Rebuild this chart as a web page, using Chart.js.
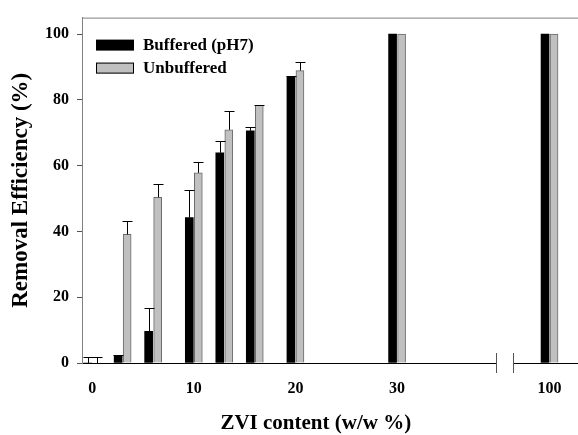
<!DOCTYPE html>
<html>
<head>
    <meta charset="UTF-8">
    <title>ZVI removal efficiency</title>
    <script src="https://cdn.jsdelivr.net/npm/chart.js"></script>
    <style>
        html, body {
            margin: 0;
            padding: 0;
            background: #fff;
        }

        #wrap {
            width: 578px;
            height: 435px;
        }
    </style>
</head>
<body>
<div id="wrap">
    <canvas id="myChart" width="578" height="435"></canvas>
</div>
<script>
    // ZVI content (w/w %) of each pair of bars
    const zviContent = [0, 3, 6, 10, 13, 16, 20, 30, 100];
    const bufferedValues = [0, 2.3, 9.6, 44.2, 63.9, 70.6, 87.0, 100, 100];
    const bufferedErrors = [1.8, 0.1, 7.1, 8.3, 3.6, 1.2, 0.2, 0, 0];
    const unbufferedValues = [0, 39.1, 50.4, 57.8, 70.9, 78.3, 88.9, 100, 100];
    const unbufferedErrors = [1.8, 4.2, 4.1, 3.3, 5.6, 0.2, 2.6, 0, 0];
    const xTickValues = [0, 10, 20, 30, 100];
    const yTickValues = [0, 20, 40, 60, 80, 100];

    // broken x axis: values above 40 are pulled left by 55
    const BREAK_AT = 40, BREAK_SHIFT = 55;
    const breakMarks = [39.7, 41.4];
    function axisPos(v) {
        return v > BREAK_AT ? v - BREAK_SHIFT : v;
    }

    const FONT = '"Liberation Serif", "Times New Roman", serif';

    const errorBars = {
        id: 'errorBars',
        afterDatasetsDraw(chart) {
            const ctx = chart.ctx, y = chart.scales.y;
            ctx.save();
            ctx.strokeStyle = '#000';
            ctx.lineWidth = 1;
            chart.data.datasets.forEach((ds, i) => {
                chart.getDatasetMeta(i).data.forEach((bar, j) => {
                    const err = ds.errors[j];
                    if (!err) return;
                    const yTop = Math.round(y.getPixelForValue(ds.data[j].y + err)) + 0.5;
                    const x = Math.round(bar.x) + 0.5;
                    ctx.beginPath();
                    ctx.moveTo(x, bar.y);
                    ctx.lineTo(x, yTop);
                    ctx.moveTo(x - 5, yTop);
                    ctx.lineTo(x + 5, yTop);
                    ctx.stroke();
                });
            });
            ctx.restore();
        }
    };

    const decorations = {
        id: 'decorations',
        afterDraw(chart) {
            const ctx = chart.ctx, area = chart.chartArea, x = chart.scales.x;
            ctx.save();
            // top frame line
            ctx.strokeStyle = '#808080';
            ctx.lineWidth = 1;
            ctx.beginPath();
            ctx.moveTo(area.left, area.top + 0.5);
            ctx.lineTo(area.right, area.top + 0.5);
            ctx.stroke();

            // axis break
            const b = breakMarks.map(v => Math.round(x.getPixelForValue(v)) + 0.5);
            ctx.fillStyle = '#fff';
            ctx.fillRect(b[0], area.bottom - 3, b[1] - b[0], 6);
            ctx.strokeStyle = '#555';
            b.forEach(px => {
                ctx.beginPath();
                ctx.moveTo(px, area.bottom - 10);
                ctx.lineTo(px, area.bottom + 10);
                ctx.stroke();
            });

            // legend
            ctx.font = 'bold 17px ' + FONT;
            ctx.textAlign = 'left';
            ctx.textBaseline = 'middle';
            chart.data.datasets.forEach((ds, i) => {
                const top = area.top + 22 + i * 23;
                ctx.fillStyle = ds.backgroundColor;
                ctx.fillRect(area.left + 14, top, 38, 11);
                if (ds.borderWidth) {
                    ctx.strokeStyle = '#000';
                    ctx.strokeRect(area.left + 14.5, top + 0.5, 37, 10);
                }
                ctx.fillStyle = '#000';
                ctx.fillText(ds.label, area.left + 61, top + 6);
            });

            // x axis title
            ctx.font = 'bold 21px ' + FONT;
            ctx.textAlign = 'center';
            ctx.textBaseline = 'alphabetic';
            const last = x.getPixelForValue(axisPos(zviContent[zviContent.length - 1]));
            ctx.fillText('ZVI content (w/w %)', (area.left + last) / 2, 429);
            ctx.restore();
        }
    };

    const ctx = document.getElementById('myChart').getContext('2d');
    new Chart(ctx, {
        type: 'bar',
        data: {
            datasets: [{
                label: 'Buffered (pH7)',
                data: zviContent.map((v, i) => ({x: axisPos(v), y: bufferedValues[i]})),
                errors: bufferedErrors,
                backgroundColor: '#000000',
                borderWidth: 0,
                barThickness: 9,
                maxBarThickness: 8
            }, {
                label: 'Unbuffered',
                data: zviContent.map((v, i) => ({x: axisPos(v), y: unbufferedValues[i]})),
                errors: unbufferedErrors,
                backgroundColor: '#c0c0c0',
                borderColor: '#6a6a6a',
                borderWidth: 1,
                barThickness: 9,
                maxBarThickness: 8
            }]
        },
        options: {
            responsive: false,
            animation: false,
            layout: {padding: {top: 11, left: 0, right: 0, bottom: 0}},
            plugins: {
                legend: {display: false},
                tooltip: {enabled: false}
            },
            scales: {
                x: {
                    type: 'linear',
                    offset: false,
                    min: -1,
                    max: 47.8,
                    afterFit: s => { s.height = 72; },
                    afterBuildTicks: s => { s.ticks = xTickValues.map(v => ({value: axisPos(v)})); },
                    ticks: {
                        callback: (val, i) => String(xTickValues[i]),
                        padding: 16,
                        autoSkip: false,
                        maxRotation: 0,
                        color: '#000',
                        font: {family: FONT, size: 16, weight: 'bold'}
                    },
                    grid: {display: false, drawTicks: false},
                    border: {color: '#000', width: 1}
                },
                y: {
                    min: 0,
                    max: 105,
                    afterFit: s => { s.width = 82; },
                    afterBuildTicks: s => { s.ticks = yTickValues.map(v => ({value: v})); },
                    ticks: {
                        padding: 8,
                        color: '#000',
                        font: {family: FONT, size: 16, weight: 'bold'}
                    },
                    grid: {drawOnChartArea: false, tickLength: 5, color: '#555'},
                    border: {color: '#808080', width: 1},
                    title: {
                        display: true,
                        text: 'Removal Efficiency (%)',
                        color: '#000',
                        font: {family: FONT, size: 23, weight: 'bold'},
                        padding: {top: 7, bottom: 0}
                    }
                }
            }
        },
        plugins: [errorBars, decorations]
    });
</script>
</body>
</html>
